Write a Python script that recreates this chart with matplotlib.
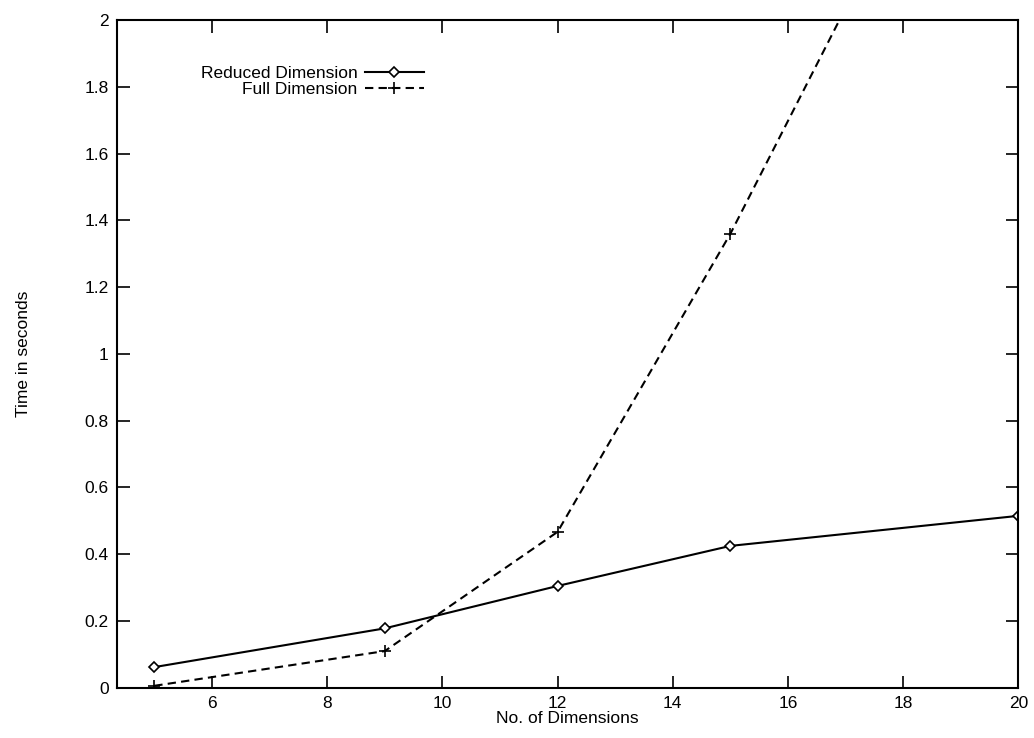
import matplotlib
matplotlib.use("Agg")
import matplotlib.pyplot as plt
from matplotlib.ticker import FuncFormatter

# values
dims = [5, 9, 12, 15, 20]
reduced_time = [0.062, 0.178, 0.305, 0.425, 0.515]
full_time = [0.006, 0.11, 0.467, 1.36, 3.05]

x_ticks = [6, 8, 10, 12, 14, 16, 18, 20]
y_ticks = [0, 0.2, 0.4, 0.6, 0.8, 1, 1.2, 1.4, 1.6, 1.8, 2]

plt.rcParams['font.family'] = ['Liberation Sans', 'DejaVu Sans']

fig = plt.figure(figsize=(10.34, 7.38), dpi=100)
ax = fig.add_axes([0.113, 0.068, 0.872, 0.905])

ax.plot(dims, reduced_time, color='black', lw=1.5, marker='D', ms=5.5,
        mfc='white', mec='black', mew=1.2, label='Reduced Dimension')
ax.plot(dims, full_time, color='black', lw=1.5, ls=(0, (4, 2.5)), marker='+',
        ms=9, mew=1.2, label='Full Dimension')

ax.set_xlim(4.35, 20)
ax.set_ylim(0, 2)
ax.set_xticks(x_ticks)
ax.set_yticks(y_ticks)
ax.yaxis.set_major_formatter(FuncFormatter(lambda v, p: f"{v:g}"))

ax.tick_params(direction='in', length=9, width=1.2, top=True, right=True,
               labelsize=12.5, pad=6)
for s in ax.spines.values():
    s.set_linewidth(1.5)

ax.set_xlabel('No. of Dimensions', fontsize=12.5, labelpad=0)
ax.set_ylabel('Time in seconds', fontsize=12.5, labelpad=38)

leg = ax.legend(loc='upper left', bbox_to_anchor=(0.076, 0.955), frameon=False,
                markerfirst=False, fontsize=12.5, handlelength=3.4,
                labelspacing=0.05, handletextpad=0.4)

plt.savefig('out.png', dpi=100, facecolor='white')
